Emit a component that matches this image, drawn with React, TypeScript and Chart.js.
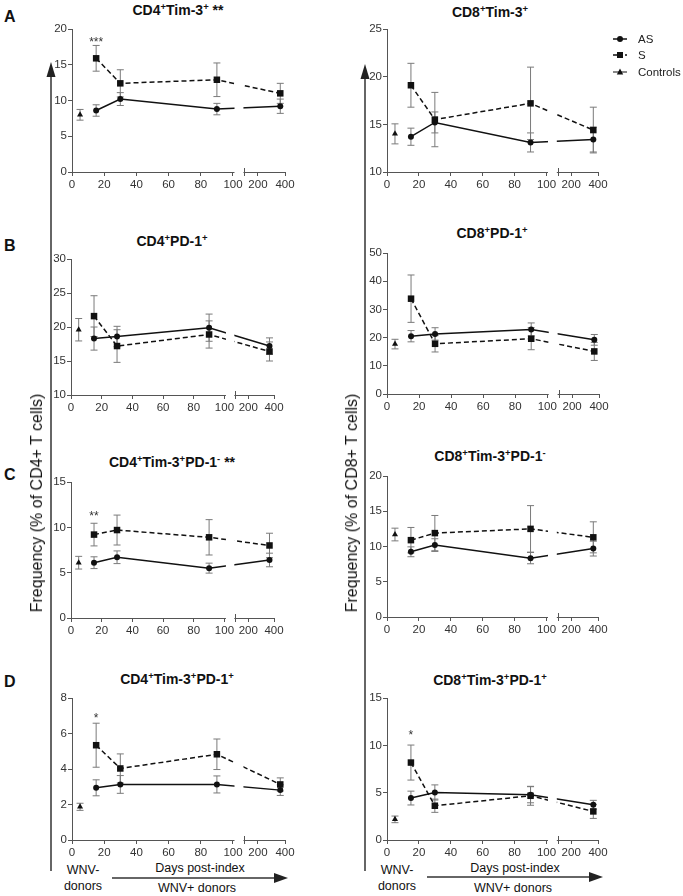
import React, { useEffect, useRef } from 'react';
import { Chart, registerables } from 'chart.js';
Chart.register(...registerables);

const FONT = '"Liberation Sans", Arial, Helvetica, sans-serif';
Chart.defaults.font.family = FONT;

// ---------- data ----------
const DAYS = [15, 30, 90, 365];
const CONTROL_DAY = 5;
const X_TICK_DAYS = [0, 20, 40, 60, 80, 100, 200, 400];
const X_TICK_LABELS = ['0', '20', '40', '60', '80', '100', '200', '400'];
const SERIES_LABELS = ['AS', 'S', 'Controls'];

// A left: CD4+Tim-3+
const CD4_TIM3_AS = [8.6, 10.2, 8.8, 9.2];
const CD4_TIM3_AS_SEM = [0.8, 0.9, 0.8, 1.0];
const CD4_TIM3_S = [15.9, 12.4, 12.9, 11.0];
const CD4_TIM3_S_SEM = [1.8, 1.9, 2.35, 1.4];
const CD4_TIM3_CTRL = [8.0, 0.75];

// A right: CD8+Tim-3+
const CD8_TIM3_AS = [13.7, 15.2, 13.1, 13.4];
const CD8_TIM3_AS_SEM = [0.9, 1.1, 1.0, 1.3];
const CD8_TIM3_S = [19.1, 15.5, 17.2, 14.4];
const CD8_TIM3_S_SEM = [2.3, 2.85, 3.8, 2.4];
const CD8_TIM3_CTRL = [14.0, 1.05];

// B left: CD4+PD-1+
const CD4_PD1_AS = [18.3, 18.6, 19.9, 17.2];
const CD4_PD1_AS_SEM = [1.7, 1.5, 2.0, 1.2];
const CD4_PD1_S = [21.6, 17.2, 18.9, 16.4];
const CD4_PD1_S_SEM = [3.0, 2.4, 2.0, 1.4];
const CD4_PD1_CTRL = [19.6, 1.65];

// B right: CD8+PD-1+
const CD8_PD1_AS = [20.5, 21.3, 22.9, 19.2];
const CD8_PD1_AS_SEM = [2.0, 2.2, 2.3, 1.9];
const CD8_PD1_S = [33.8, 17.8, 19.6, 15.1];
const CD8_PD1_S_SEM = [8.4, 2.9, 3.9, 3.2];
const CD8_PD1_CTRL = [17.7, 1.7];

// C left: CD4+Tim-3+PD-1-
const CD4_TP_NEG_AS = [6.1, 6.7, 5.5, 6.4];
const CD4_TP_NEG_AS_SEM = [0.65, 0.7, 0.55, 0.75];
const CD4_TP_NEG_S = [9.2, 9.7, 8.9, 8.0];
const CD4_TP_NEG_S_SEM = [1.25, 1.65, 1.95, 1.35];
const CD4_TP_NEG_CTRL = [6.1, 0.7];

// C right: CD8+Tim-3+PD-1-
const CD8_TP_NEG_AS = [9.25, 10.2, 8.35, 9.7];
const CD8_TP_NEG_AS_SEM = [0.7, 0.9, 0.8, 1.05];
const CD8_TP_NEG_S = [10.9, 11.9, 12.5, 11.3];
const CD8_TP_NEG_S_SEM = [1.8, 2.5, 3.3, 2.2];
const CD8_TP_NEG_CTRL = [11.7, 0.9];

// D left: CD4+Tim-3+PD-1+
const CD4_TP_POS_AS = [2.94, 3.13, 3.13, 2.81];
const CD4_TP_POS_AS_SEM = [0.45, 0.5, 0.48, 0.3];
const CD4_TP_POS_S = [5.34, 4.03, 4.83, 3.13];
const CD4_TP_POS_S_SEM = [1.24, 0.82, 0.86, 0.37];
const CD4_TP_POS_CTRL = [1.87, 0.2];

// D right: CD8+Tim-3+PD-1+
const CD8_TP_POS_AS = [4.43, 5.02, 4.78, 3.72];
const CD8_TP_POS_AS_SEM = [0.73, 0.8, 0.85, 0.47];
const CD8_TP_POS_S = [8.18, 3.62, 4.67, 3.02];
const CD8_TP_POS_S_SEM = [1.85, 0.7, 1.0, 0.74];
const CD8_TP_POS_CTRL = [2.18, 0.35];

// ---------- broken x-axis mapping ----------
const SEG1_END = 100;
const SEG2_START_U = 107.1;
const SEG2_SCALE = 0.084;
function toU(d: number) {
  return d <= SEG1_END ? d : SEG2_START_U + (d - SEG1_END) * SEG2_SCALE;
}

type PanelDef = {
  title: string;
  tx: number; ty: number;
  x0: number; x1: number; y0: number; y1: number;
  ymin: number; ymax: number; step: number;
  as: number[]; asSem: number[]; s: number[]; sSem: number[]; ctrl: number[];
  star?: { text: string; y: number };
  legend?: boolean;
};

const PANELS: PanelDef[] = [
  { title: 'CD4^+Tim-3^+ **', tx: 178, ty: 10, x0: 72, x1: 285, y0: 29, y1: 172, ymin: 0, ymax: 20, step: 5,
    as: CD4_TIM3_AS, asSem: CD4_TIM3_AS_SEM, s: CD4_TIM3_S, sSem: CD4_TIM3_S_SEM, ctrl: CD4_TIM3_CTRL, star: { text: '***', y: 18.5 } },
  { title: 'CD8^+Tim-3^+', tx: 490, ty: 12, x0: 387, x1: 598, y0: 29, y1: 172, ymin: 10, ymax: 25, step: 5,
    as: CD8_TIM3_AS, asSem: CD8_TIM3_AS_SEM, s: CD8_TIM3_S, sSem: CD8_TIM3_S_SEM, ctrl: CD8_TIM3_CTRL, legend: true },
  { title: 'CD4^+PD-1^+', tx: 172, ty: 241, x0: 71, x1: 274, y0: 259, y1: 395, ymin: 10, ymax: 30, step: 5,
    as: CD4_PD1_AS, asSem: CD4_PD1_AS_SEM, s: CD4_PD1_S, sSem: CD4_PD1_S_SEM, ctrl: CD4_PD1_CTRL },
  { title: 'CD8^+PD-1^+', tx: 492, ty: 233, x0: 387, x1: 599, y0: 253, y1: 394, ymin: 0, ymax: 50, step: 10,
    as: CD8_PD1_AS, asSem: CD8_PD1_AS_SEM, s: CD8_PD1_S, sSem: CD8_PD1_S_SEM, ctrl: CD8_PD1_CTRL },
  { title: 'CD4^+Tim-3^+PD-1^- **', tx: 172, ty: 462, x0: 71, x1: 274, y0: 482, y1: 618, ymin: 0, ymax: 15, step: 5,
    as: CD4_TP_NEG_AS, asSem: CD4_TP_NEG_AS_SEM, s: CD4_TP_NEG_S, sSem: CD4_TP_NEG_S_SEM, ctrl: CD4_TP_NEG_CTRL, star: { text: '**', y: 11.5 } },
  { title: 'CD8^+Tim-3^+PD-1^-', tx: 490, ty: 456, x0: 387, x1: 598, y0: 476, y1: 617, ymin: 0, ymax: 20, step: 5,
    as: CD8_TP_NEG_AS, asSem: CD8_TP_NEG_AS_SEM, s: CD8_TP_NEG_S, sSem: CD8_TP_NEG_S_SEM, ctrl: CD8_TP_NEG_CTRL },
  { title: 'CD4^+Tim-3^+PD-1^+', tx: 177, ty: 679, x0: 72, x1: 285, y0: 698, y1: 840, ymin: 0, ymax: 8, step: 2,
    as: CD4_TP_POS_AS, asSem: CD4_TP_POS_AS_SEM, s: CD4_TP_POS_S, sSem: CD4_TP_POS_S_SEM, ctrl: CD4_TP_POS_CTRL, star: { text: '*', y: 7.0 } },
  { title: 'CD8^+Tim-3^+PD-1^+', tx: 490, ty: 680, x0: 387, x1: 598, y0: 698, y1: 840, ymin: 0, ymax: 15, step: 5,
    as: CD8_TP_POS_AS, asSem: CD8_TP_POS_AS_SEM, s: CD8_TP_POS_S, sSem: CD8_TP_POS_S_SEM, ctrl: CD8_TP_POS_CTRL, star: { text: '*', y: 11.3 } },
];

const YW = 34, XH = 20, PT = 8;
const AXIS = '#555';
const INK = '#111';

const panelPlugin = {
  id: 'panelExtras',
  beforeDatasetsDraw(chart: any) {
    const ctx = chart.ctx;
    const ys = chart.scales.y;
    ctx.save();
    ctx.strokeStyle = '#7a7a7a';
    ctx.lineWidth = 1;
    chart.data.datasets.forEach((ds: any, i: number) => {
      const meta = chart.getDatasetMeta(i);
      meta.data.forEach((pt: any, j: number) => {
        const v = ds.data[j].y;
        const e = ds.sem[j];
        const yTop = ys.getPixelForValue(v + e);
        const yBot = ys.getPixelForValue(v - e);
        const x = pt.x;
        ctx.beginPath();
        ctx.moveTo(x, yTop); ctx.lineTo(x, yBot);
        ctx.moveTo(x - 3.5, yTop); ctx.lineTo(x + 3.5, yTop);
        ctx.moveTo(x - 3.5, yBot); ctx.lineTo(x + 3.5, yBot);
        ctx.stroke();
      });
    });
    ctx.restore();
  },
  afterDatasetsDraw(chart: any, _args: any, opts: any) {
    const ctx = chart.ctx;
    const xs = chart.scales.x;
    const ys = chart.scales.y;
    const ca = chart.chartArea;
    const gx0 = xs.getPixelForValue(SEG1_END) + 1.5;
    const gx1 = xs.getPixelForValue(SEG2_START_U) - 1;
    ctx.save();
    ctx.fillStyle = '#fff';
    ctx.fillRect(gx0, ca.top - 2, gx1 - gx0, ca.bottom - ca.top + 4);
    ctx.strokeStyle = AXIS;
    ctx.lineWidth = 1;
    const bx = Math.round(gx1 + 1) + 0.5;
    ctx.beginPath();
    ctx.moveTo(bx, ca.bottom - 4);
    ctx.lineTo(bx, ca.bottom + 4);
    ctx.stroke();
    // significance stars
    if (opts && opts.star) {
      const sDs = chart.getDatasetMeta(1);
      const pt = sDs.data[0];
      ctx.fillStyle = '#333';
      ctx.font = `12px ${FONT}`;
      ctx.textAlign = 'center';
      ctx.textBaseline = 'middle';
      ctx.fillText(opts.star.text, pt.x, ys.getPixelForValue(opts.star.y) + 3);
    }
    ctx.restore();
  },
  afterDraw(chart: any, _args: any, opts: any) {
    if (!opts || !opts.legend) return;
    const ctx = chart.ctx;
    const ca = chart.chartArea;
    const offs = [10, 26, 43];
    ctx.save();
    chart.data.datasets.forEach((ds: any, i: number) => {
      const y = ca.top + offs[i];
      const lx0 = ca.right + 15, lx1 = ca.right + 29;
      ctx.strokeStyle = INK;
      ctx.lineWidth = i === 2 ? 1 : 1.5;
      ctx.setLineDash(i === 1 ? [4, 2] : []);
      ctx.beginPath();
      ctx.moveTo(lx0, y); ctx.lineTo(lx1, y);
      ctx.stroke();
      ctx.setLineDash([]);
      ctx.fillStyle = INK;
      const cx = (lx0 + lx1) / 2;
      const r = i === 2 ? 3 : 3;
      ctx.beginPath();
      if (ds.pointStyle === 'circle') {
        ctx.arc(cx, y, r, 0, Math.PI * 2);
      } else if (ds.pointStyle === 'rect') {
        ctx.rect(cx - 3, y - 3, 6, 6);
      } else {
        ctx.moveTo(cx, y - 3.5); ctx.lineTo(cx + 3.2, y + 2.5); ctx.lineTo(cx - 3.2, y + 2.5); ctx.closePath();
      }
      ctx.fill();
      ctx.fillStyle = '#222';
      ctx.font = `11.5px ${FONT}`;
      ctx.textAlign = 'left';
      ctx.textBaseline = 'middle';
      ctx.fillText(ds.label, ca.right + 40, y + 1);
    });
    ctx.restore();
  },
};

function Panel({ p }: { p: PanelDef }) {
  const ref = useRef<HTMLCanvasElement | null>(null);
  const PR = p.legend ? 90 : 16;
  const w = p.x1 - p.x0 + YW + PR;
  const h = p.y1 - p.y0 + PT + XH;
  useEffect(() => {
    const tickFont = { size: 11.5, family: FONT };
    const chart = new Chart(ref.current as HTMLCanvasElement, {
      type: 'line',
      data: {
        datasets: [
          {
            label: SERIES_LABELS[0],
            data: DAYS.map((d, i) => ({ x: toU(d), y: p.as[i] })),
            sem: p.asSem,
            borderColor: INK, backgroundColor: INK, borderWidth: 1.5,
            pointStyle: 'circle', pointRadius: 3, pointBorderWidth: 0,
          } as any,
          {
            label: SERIES_LABELS[1],
            data: DAYS.map((d, i) => ({ x: toU(d), y: p.s[i] })),
            sem: p.sSem,
            borderColor: INK, backgroundColor: INK, borderWidth: 1.5, borderDash: [5, 3],
            pointStyle: 'rect', pointRadius: 4.6, pointBorderWidth: 0,
          } as any,
          {
            label: SERIES_LABELS[2],
            data: [{ x: toU(CONTROL_DAY), y: p.ctrl[0] }],
            sem: [p.ctrl[1]],
            borderColor: INK, backgroundColor: INK, borderWidth: 1,
            pointStyle: 'triangle', pointRadius: 3.5, pointBorderWidth: 0, showLine: false,
          } as any,
        ],
      },
      options: {
        animation: false,
        responsive: false,
        events: [],
        layout: { padding: { top: PT, right: PR, left: 0, bottom: 0 } },
        plugins: {
          legend: { display: false },
          tooltip: { enabled: false },
          panelExtras: { star: p.star, legend: p.legend },
        } as any,
        scales: {
          x: {
            type: 'linear',
            min: 0,
            max: toU(400),
            afterBuildTicks: (s: any) => { s.ticks = X_TICK_DAYS.map((d) => ({ value: toU(d) })); },
            afterFit: (s: any) => { s.height = XH; },
            ticks: {
              autoSkip: false, maxRotation: 0, padding: 2, color: '#333', font: tickFont,
              callback: (_v: any, i: number) => X_TICK_LABELS[i],
            },
            grid: { drawOnChartArea: false, drawTicks: true, tickLength: 4, color: AXIS },
            border: { display: true, color: AXIS, width: 1 },
          },
          y: {
            min: p.ymin,
            max: p.ymax,
            afterFit: (s: any) => { s.width = YW; },
            ticks: { stepSize: p.step, padding: 1, color: '#333', font: tickFont },
            grid: { drawOnChartArea: false, drawTicks: true, tickLength: 4, color: AXIS },
            border: { display: true, color: AXIS, width: 1 },
          },
        },
      },
      plugins: [panelPlugin],
    } as any);
    return () => chart.destroy();
  }, []);
  return (
    <canvas
      ref={ref}
      width={w}
      height={h}
      style={{ position: 'absolute', left: p.x0 - YW, top: p.y0 - PT, width: w, height: h }}
    />
  );
}

function RichTitle({ text }: { text: string }) {
  const parts: React.ReactNode[] = [];
  let buf = '';
  for (let i = 0; i < text.length; i++) {
    if (text[i] === '^' && i + 1 < text.length) {
      if (buf) parts.push(buf);
      buf = '';
      parts.push(
        <span key={i} style={{ fontSize: '0.68em', position: 'relative', top: '-0.5em' }}>
          {text[i + 1]}
        </span>
      );
      i++;
    } else buf += text[i];
  }
  if (buf) parts.push(buf);
  return <>{parts}</>;
}

function Centered({ x, y, size, bold, children, rotate }: any) {
  return (
    <div
      style={{
        position: 'absolute', left: x, top: y, whiteSpace: 'nowrap', lineHeight: 1,
        fontSize: size, fontWeight: bold ? 700 : 400, color: INK,
        transform: `translate(-50%, -50%)${rotate ? ' rotate(-90deg)' : ''}`,
      }}
    >
      {children}
    </div>
  );
}

const LETTERS = [
  { t: 'A', y: 17 },
  { t: 'B', y: 246 },
  { t: 'C', y: 475 },
  { t: 'D', y: 682 },
];

export default function App() {
  return (
    <div
      style={{
        position: 'absolute', left: 0, top: 0, width: 683, height: 896,
        background: '#fff', overflow: 'hidden', fontFamily: FONT,
      }}
    >
      <svg width={683} height={896} style={{ position: 'absolute', left: 0, top: 0 }}>
        <g stroke="#333" strokeWidth={1.5} fill="#222">
          <line x1={51} y1={74} x2={51} y2={871} />
          <polygon points="51,62 46.5,77 55.5,77" stroke="none" />
          <line x1={365} y1={76} x2={365} y2={871} />
          <polygon points="365,64 360.5,79 369.5,79" stroke="none" />
          <line x1={112} y1={878} x2={276} y2={878} />
          <polygon points="288,878 274,873 274,883" stroke="none" />
          <line x1={427} y1={877} x2={591} y2={877} />
          <polygon points="603,877 589,872 589,882" stroke="none" />
        </g>
      </svg>
      {PANELS.map((p, i) => (
        <Panel key={i} p={p} />
      ))}
      {PANELS.map((p, i) => (
        <Centered key={'t' + i} x={p.tx} y={p.ty} size={14} bold>
          <RichTitle text={p.title} />
        </Centered>
      ))}
      {LETTERS.map((l) => (
        <div key={l.t} style={{ position: 'absolute', left: 4, top: l.y - 8, fontSize: 16, fontWeight: 700, lineHeight: 1, color: INK }}>
          {l.t}
        </div>
      ))}
      <Centered x={37} y={503} size={16} rotate>Frequency (% of CD4+ T cells)</Centered>
      <Centered x={352} y={503} size={16} rotate>Frequency (% of CD8+ T cells)</Centered>

      <Centered x={83} y={870} size={12.5}>WNV-</Centered>
      <Centered x={83} y={886} size={12.5}>donors</Centered>
      <Centered x={200} y={868} size={12.5}>Days post-index</Centered>
      <Centered x={197} y={888} size={12.5}>WNV+ donors</Centered>

      <Centered x={397} y={870} size={12.5}>WNV-</Centered>
      <Centered x={397} y={886} size={12.5}>donors</Centered>
      <Centered x={515} y={868} size={12.5}>Days post-index</Centered>
      <Centered x={513} y={888} size={12.5}>WNV+ donors</Centered>
    </div>
  );
}
